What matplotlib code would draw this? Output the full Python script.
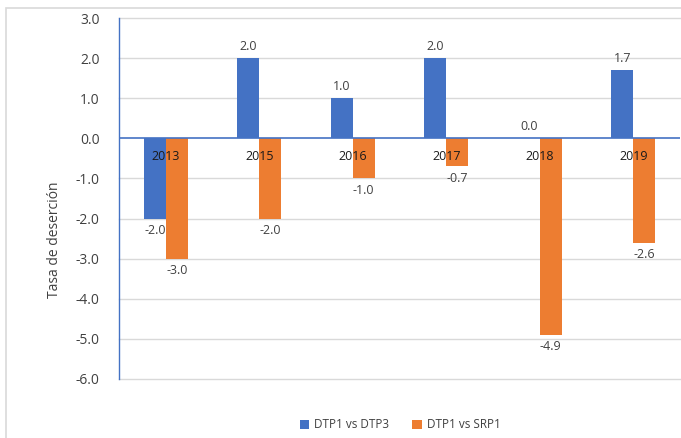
import matplotlib
matplotlib.use("Agg")
import matplotlib.pyplot as plt
import numpy as np
from matplotlib.patches import Rectangle

years = ["2013", "2015", "2016", "2017", "2018", "2019"]
dtp1_vs_dtp3 = [-2.0, 2.0, 1.0, 2.0, 0.0, 1.7]
dtp1_vs_srp1 = [-3.0, -2.0, -1.0, -0.7, -4.9, -2.6]
series_names = ["DTP1 vs DTP3", "DTP1 vs SRP1"]
yticks = [3.0, 2.0, 1.0, 0.0, -1.0, -2.0, -3.0, -4.0, -5.0, -6.0]

blue = "#4472C4"
orange = "#ED7D31"
txt = "#404040"

plt.rcParams['font.family'] = ['Open Sans', 'DejaVu Sans']

fig = plt.figure(figsize=(6.81, 4.38), dpi=100)
ax = fig.add_axes([119/681, 1-379/438, (680-119)/681, (379-18)/438])

x = np.arange(len(years))
w = 0.235
b1 = ax.bar(x - w/2, dtp1_vs_dtp3, w, color=blue, label=series_names[0], zorder=3)
b2 = ax.bar(x + w/2, dtp1_vs_srp1, w, color=orange, label=series_names[1], zorder=3)

ax.set_xlim(-0.5, len(years) - 0.5)
ax.set_ylim(-6, 3)
ax.set_yticks(yticks)
ax.set_yticklabels([f"{v:.1f}" for v in yticks], fontsize=10, color=txt)
ax.tick_params(axis='y', length=0, pad=14)
ax.set_xticks([])
for v in yticks:
    if v != 0:
        ax.axhline(v, color='#d9d9d9', linewidth=1, zorder=0, clip_on=False)
for s in ['top', 'right', 'bottom']:
    ax.spines[s].set_visible(False)
ax.spines['left'].set_color(blue)
ax.spines['left'].set_linewidth(1)
ax.axhline(0, color=blue, linewidth=1.2, zorder=4)

for xi, v in zip(x - w/2, dtp1_vs_dtp3):
    off = 8.5 if v >= 0 else -8.5
    ax.annotate(f"{v:.1f}", (xi, v), xytext=(0, off), textcoords='offset points',
                ha='center', va='center', fontsize=9, color=txt, zorder=5)
for xi, v in zip(x + w/2, dtp1_vs_srp1):
    off = 8.5 if v >= 0 else -8.5
    ax.annotate(f"{v:.1f}", (xi, v), xytext=(0, off), textcoords='offset points',
                ha='center', va='center', fontsize=9, color=txt, zorder=5)

for xi, y in zip(x, years):
    ax.annotate(y, (xi, 0), xytext=(0, -13), textcoords='offset points',
                ha='center', va='center', fontsize=9, color='#1a1a1a', zorder=6)

fig.text(55/681, 1-240/438, "Tasa de deserción", rotation=90, ha='center', va='center',
         fontsize=10, color=txt)

leg = fig.legend(handles=[b1, b2], labels=series_names, loc='center',
                 bbox_to_anchor=(400/681, 1-425/438), ncol=2, frameon=False,
                 fontsize=8.5, handlelength=0.8, handleheight=0.8, columnspacing=2.0,
                 handletextpad=0.4)
for t in leg.get_texts():
    t.set_color(txt)

fig.patches.append(Rectangle((6/681, -0.1), 1.2, 1 - 8/438 + 0.1, transform=fig.transFigure,
                             fill=False, edgecolor='#d9d9d9', linewidth=1.2))

fig.savefig("out.png", dpi=100)
